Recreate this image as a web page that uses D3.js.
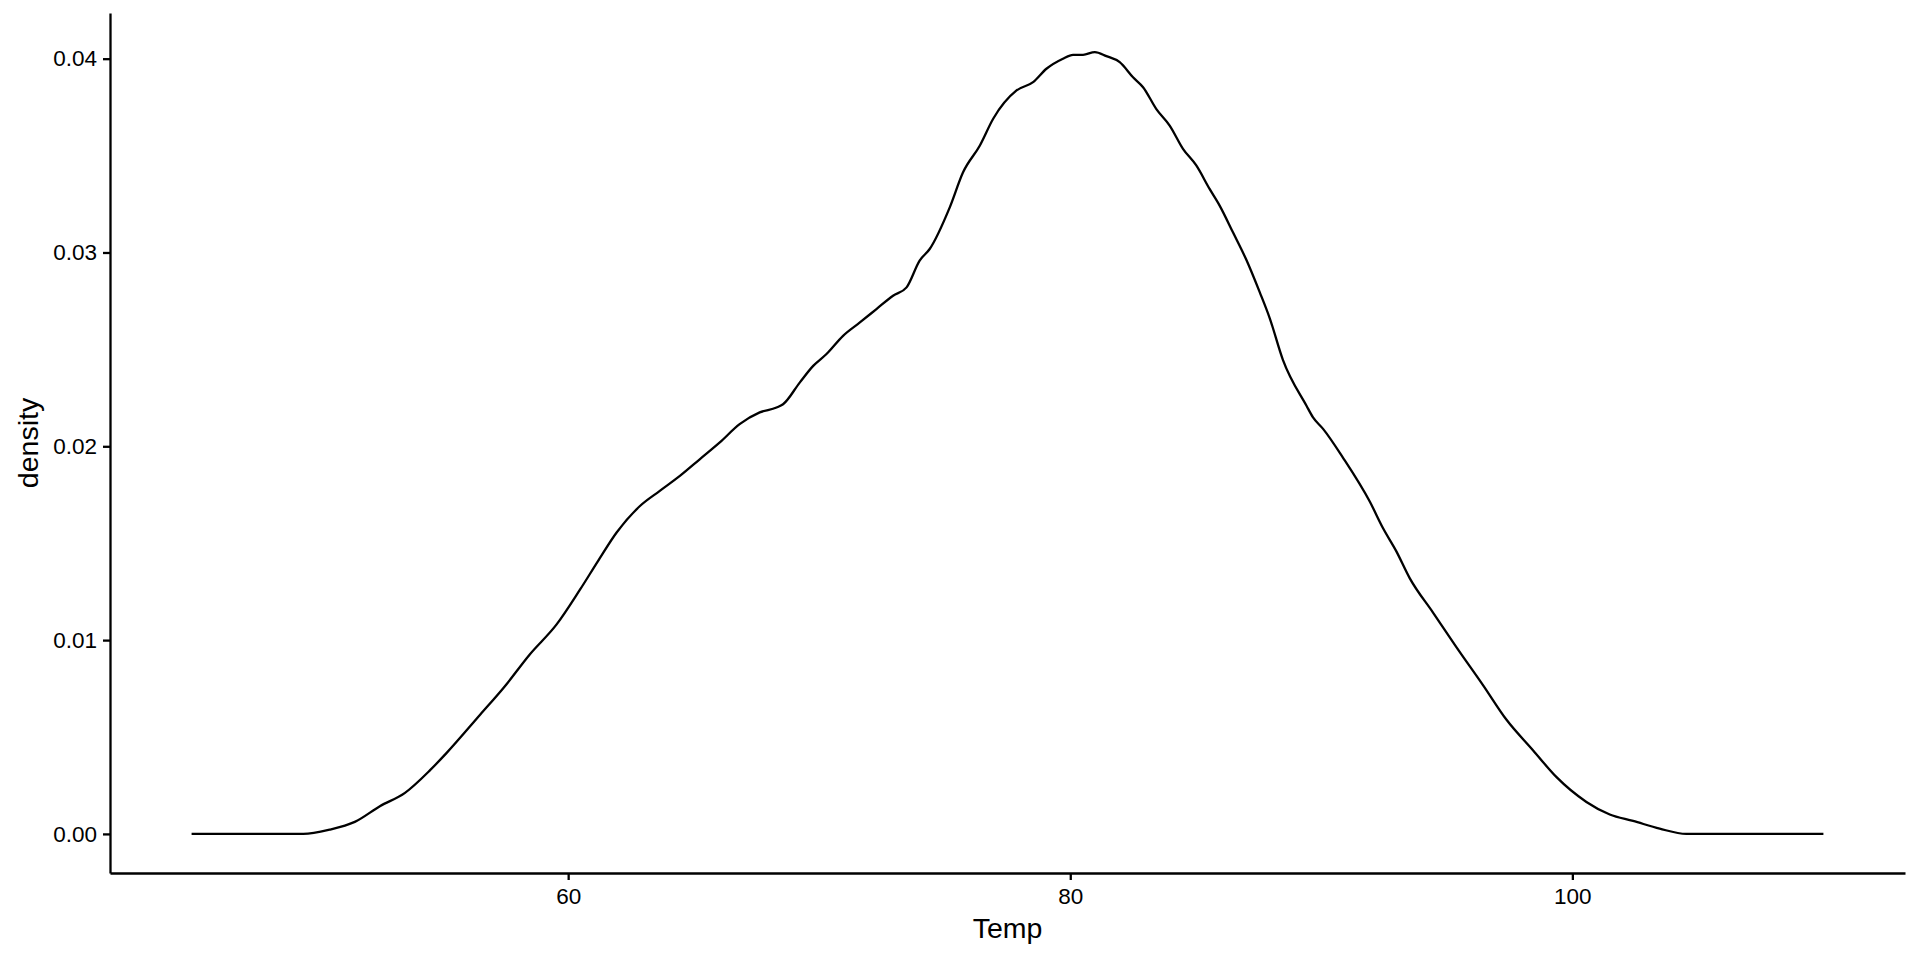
<!DOCTYPE html>
<html>
<head>
<meta charset="utf-8">
<script src="https://cdn.jsdelivr.net/npm/d3@7"></script>
<style>
  body { margin: 0; background: #fff; }
  text { font-family: "Liberation Sans", Arial, sans-serif; fill: #000; }
</style>
</head>
<body>
<div class="chart"></div>
<script>
// Density of Temp
var tempValues = [45, 49.45, 50.5, 51.5, 52.5, 53.5, 54.5, 55.16, 56.5, 57.48, 58.47, 59.54,
  60.47, 61.2, 61.93, 62.86, 63.65, 64.45, 65.24, 66.04, 66.83, 67.63, 68.3, 68.56,
  69.23, 69.76, 70.29, 70.95, 71.62, 72.28, 72.94, 73.48, 74.0, 74.4, 75.2, 75.73,
  76.4, 76.93, 77.86, 78.52, 79.05, 79.71, 80.11, 80.51, 80.98, 81.44, 81.97, 82.5,
  82.9, 83.43, 83.96, 84.49, 85.02, 85.55, 85.95, 86.48, 87.0, 87.55, 87.94, 88.47,
  89.41, 89.67, 90.07, 90.86, 91.93, 92.46, 92.99, 93.52, 94.45, 95.38, 96.44, 97.37,
  98.43, 99.36, 100.56, 101.49, 102.42, 103.48, 104.54, 110];
var densityValues = [0, 0, 0.00022, 0.00062, 0.00143, 0.00212, 0.00329, 0.00418, 0.00616, 0.00762, 0.00926, 0.01081,
  0.0126, 0.0141, 0.01555, 0.01692, 0.0177, 0.01847, 0.01933, 0.0202, 0.02114, 0.02175, 0.022, 0.02217,
  0.0233, 0.02415, 0.02476, 0.0257, 0.02639, 0.02708, 0.02777, 0.0282, 0.02958, 0.03018, 0.03233, 0.03414,
  0.03552, 0.0369, 0.03836, 0.03879, 0.03948, 0.04, 0.0402, 0.0402, 0.04034, 0.04013, 0.03982, 0.03904,
  0.03853, 0.0374, 0.03655, 0.03535, 0.03449, 0.03328, 0.03242, 0.03104, 0.02966, 0.02794, 0.02663, 0.02446,
  0.02209, 0.02149, 0.0209, 0.01942, 0.01715, 0.01577, 0.01458, 0.0132, 0.01142, 0.00964, 0.00768, 0.0059,
  0.00432, 0.00294, 0.00165, 0.001, 0.00067, 0.00027, 0, 0];
var xTicks = [60, 80, 100];
var yTicks = [0, 0.01, 0.02, 0.03, 0.04];

var svgWidth = 1920;
var svgHeight = 960;

// panel edges
var margin = { top: 13, right: 15, bottom: 87, left: 110 };

var svg = d3.select(".chart")
  .append("svg")
  .attr("width", svgWidth)
  .attr("height", svgHeight);

var data = tempValues.map(function(t, i) { return { temp: t, density: densityValues[i] }; });

// ggplot style 5% expansion on both axes
var xMin = d3.min(tempValues), xMax = d3.max(tempValues);
var xPad = (xMax - xMin) * 0.05;
var yMax = d3.max(densityValues);
var yPad = yMax * 0.05;

var x = d3.scaleLinear()
  .domain([xMin - xPad, xMax + xPad])
  .range([margin.left, svgWidth - margin.right]);

var y = d3.scaleLinear()
  .domain([0 - yPad, yMax + yPad])
  .range([svgHeight - margin.bottom, margin.top]);

// density line
var line = d3.line()
  .x(function(d) { return x(d.temp); })
  .y(function(d) { return y(d.density); })
  .curve(d3.curveMonotoneX);

svg.append("path")
  .datum(data)
  .attr("d", line)
  .attr("fill", "none")
  .attr("stroke", "#000")
  .attr("stroke-width", 2.3)
  .attr("stroke-linejoin", "round");

// X axis
var xAxis = d3.axisBottom(x).tickValues(xTicks).tickSize(7).tickPadding(8).tickSizeOuter(0);
var gx = svg.append("g")
  .attr("transform", "translate(0," + (svgHeight - margin.bottom) + ")")
  .call(xAxis);
gx.selectAll("text").attr("font-size", 22.5).style("font-family", "Liberation Sans, Arial, sans-serif").attr("fill", "#000");

// Y axis
var yAxis = d3.axisLeft(y).tickValues(yTicks).tickFormat(d3.format(".2f")).tickSize(7).tickPadding(6).tickSizeOuter(0);
var gy = svg.append("g")
  .attr("transform", "translate(" + margin.left + ",0)")
  .call(yAxis);
gy.selectAll("text").attr("font-size", 22.5).style("font-family", "Liberation Sans, Arial, sans-serif").attr("fill", "#000");

svg.selectAll(".domain, .tick line")
  .attr("stroke", "#000")
  .attr("stroke-width", 2.3);

// axis titles
svg.append("text")
  .attr("x", (margin.left + svgWidth - margin.right) / 2)
  .attr("y", 938)
  .attr("text-anchor", "middle")
  .attr("font-size", 28.5)
  .text("Temp");

svg.append("text")
  .attr("transform", "rotate(-90)")
  .attr("x", -(margin.top + svgHeight - margin.bottom) / 2)
  .attr("y", 38)
  .attr("text-anchor", "middle")
  .attr("font-size", 28.5)
  .text("density");
</script>
</body>
</html>
